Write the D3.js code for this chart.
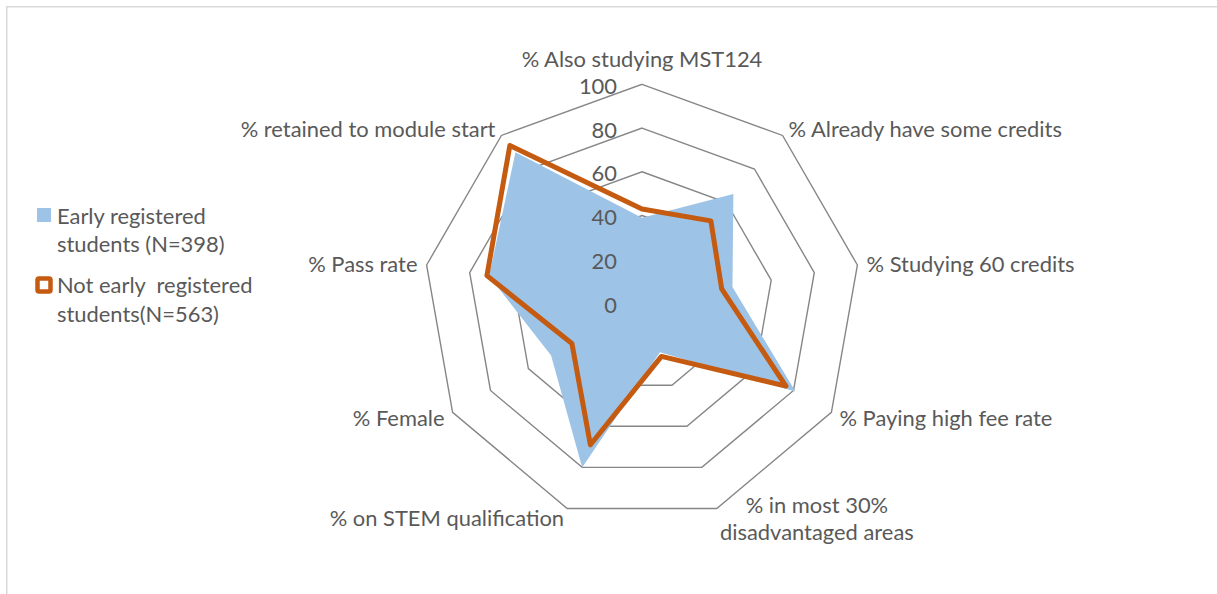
<!DOCTYPE html>
<html>
<head>
<meta charset="utf-8">
<script src="https://cdn.jsdelivr.net/npm/d3@7.9.0/dist/d3.min.js"></script>
<style>
  html, body { margin: 0; padding: 0; background: #fff; }
  svg { display: block; }
  text { font-family: Lato, "Open Sans", sans-serif; fill: #595959; white-space: pre; }
</style>
</head>
<body>
<div id="chart"></div>
<script>
// ── Data ─────────────────────────────────────────────────────────────────────
const categories = [
  '% Also studying MST124',
  '% Already have some credits',
  '% Studying 60 credits',
  '% Paying high fee rate',
  '% in most 30%\ndisadvantaged areas',
  '% on STEM qualification',
  '% Female',
  '% Pass rate',
  '% retained to module start',
];
const earlyRegistered = [39, 65, 42, 81, 24, 80, 48, 71, 90];
const notEarlyRegistered = [43, 49, 37, 76, 26, 69, 37, 72, 94];
const ticks = [0, 20, 40, 60, 80, 100];
const seriesNames = [
  ['Early registered', 'students (N=398)'],
  ['Not early  registered', 'students(N=563)'],
];

// ── Layout ───────────────────────────────────────────────────────────────────
const width = 1217;
const height = 594;
const cx = 642;
const cy = 303;
const outerR = 218.7;
const labelR = 228;
const fontSize = 21.9;

const svg = d3
  .select('#chart')
  .append('svg')
  .attr('width', width)
  .attr('height', height);

// chart area border
svg
  .append('rect')
  .attr('x', 6.75)
  .attr('y', 6.75)
  .attr('width', 1400)
  .attr('height', 800)
  .attr('fill', '#fff')
  .attr('stroke', '#d9d9d9')
  .attr('stroke-width', 1.5);

const rScale = d3.scaleLinear().domain([0, 100]).range([0, outerR]);
const angle = (i) => (i * 2 * Math.PI) / categories.length;

const g = svg.append('g').attr('transform', `translate(${cx},${cy})`);

// Rings
const ringLine = d3.lineRadial().curve(d3.curveLinearClosed);
g.append('g')
  .selectAll('path')
  .data(ticks.filter((t) => t > 0))
  .join('path')
  .attr('d', (t) => ringLine(categories.map((c, i) => [angle(i), rScale(t)])))
  .attr('fill', 'none')
  .attr('stroke', '#868686')
  .attr('stroke-width', 1.4);

// Early registered (filled)
const radial = d3
  .lineRadial()
  .angle((d, i) => angle(i))
  .radius((d) => rScale(d))
  .curve(d3.curveLinearClosed);

g.append('path')
  .attr('d', radial(earlyRegistered))
  .attr('fill', '#9dc3e6');

// Not early registered (line)
g.append('path')
  .attr('d', radial(notEarlyRegistered))
  .attr('fill', 'none')
  .attr('stroke', '#c55a11')
  .attr('stroke-width', 5)
  .attr('stroke-linejoin', 'round');

// Tick labels
g.append('g')
  .selectAll('text')
  .data(ticks)
  .join('text')
  .attr('x', -25)
  .attr('y', (t) => -rScale(t) + 1)
  .attr('text-anchor', 'end')
  .attr('dominant-baseline', 'central')
  .style('font-size', fontSize + 'px')
  .text((t) => t);

// Category labels
categories.forEach((c, i) => {
  const a = angle(i);
  const px = labelR * Math.sin(a);
  const py = -labelR * Math.cos(a);
  const lines = c.split('\n');
  const t = g
    .append('text')
    .attr('dominant-baseline', 'central')
    .style('font-size', fontSize + 'px');
  if (Math.abs(Math.sin(a)) < 0.01) {
    t.attr('x', px).attr('y', py - 17).attr('text-anchor', 'middle').text(c);
    return;
  }
  if (lines.length === 1) {
    t.attr('x', px)
      .attr('y', py)
      .attr('text-anchor', Math.sin(a) > 0 ? 'start' : 'end')
      .text(c);
    return;
  }
  // multi-line label: box starts at the anchor point, lines centred in it
  const spans = t
    .selectAll('tspan')
    .data(lines)
    .join('tspan')
    .attr('y', (d, k) => py + (k - (lines.length - 1) / 2) * 27)
    .text((d) => d);
  const maxW = d3.max(spans.nodes(), (n) => n.getComputedTextLength());
  spans.attr('x', px + maxW / 2).attr('text-anchor', 'middle');
});

// Legend
const legend = svg.append('g');
legend
  .append('rect')
  .attr('x', 37)
  .attr('y', 208)
  .attr('width', 14)
  .attr('height', 14)
  .attr('fill', '#9dc3e6');
legend
  .append('rect')
  .attr('x', 37.5)
  .attr('y', 278.5)
  .attr('width', 13)
  .attr('height', 13)
  .attr('rx', 1.5)
  .attr('fill', '#fff')
  .attr('stroke', '#c55a11')
  .attr('stroke-width', 4.5);

const legendY = [[215, 243.5], [284, 313.5]];
seriesNames.forEach((lines, s) => {
  lines.forEach((line, k) => {
    legend
      .append('text')
      .attr('x', 57)
      .attr('y', legendY[s][k])
      .attr('dominant-baseline', 'central')
      .style('font-size', fontSize + 'px')
      .text(line);
  });
});
</script>
</body>
</html>
